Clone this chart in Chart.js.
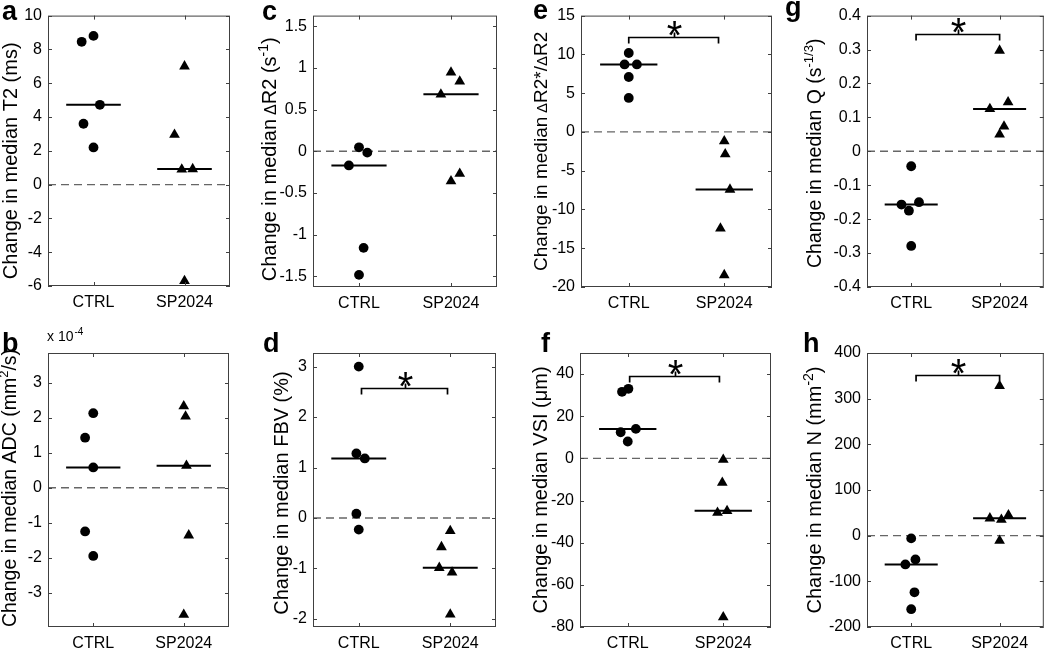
<!DOCTYPE html>
<html>
<head>
<meta charset="utf-8">
<script src="https://cdn.jsdelivr.net/npm/chart.js@4.4.0/dist/chart.umd.min.js"></script>
<style>
  body { margin: 0; background: #fff; }
  #fig { position: relative; width: 1050px; height: 650px; overflow: hidden; background: #fff; }
  #fig canvas { position: absolute; }
</style>
</head>
<body>
<div id="fig"></div>
<script>
const FONT = '"Liberation Sans", Arial, sans-serif';

// shared x axis
const groups = ['CTRL', 'SP2024'];
const groupPos = [1, 2];
const xRange = [0.5, 2.5];
const zeroLevel = 0;

// a: T2 (ms)
const t2Ctrl = [8.45, 8.8, 4.72, 3.6, 2.2];
const t2CtrlX = [0.87, 1.0, 1.07, 0.89, 1.0];
const t2Sp = [7.0, 2.95, 0.9, 0.92, -5.7];
const t2SpX = [2.0, 1.89, 1.97, 2.09, 2.0];
const t2Median = [4.72, 0.92];
const t2Range = [-6, 10];
const t2Ticks = [-6, -4, -2, 0, 2, 4, 6, 8, 10];

// b: ADC (x 10^-4 mm2/s)
const adcCtrl = [2.13, 1.43, 0.58, -1.25, -1.95];
const adcCtrlX = [1.0, 0.91, 1.0, 0.91, 1.0];
const adcSp = [2.33, 2.04, 0.63, -1.36, -3.63];
const adcSpX = [2.0, 2.02, 2.03, 2.055, 2.0];
const adcMedian = [0.58, 0.63];
const adcRange = [-3.98, 3.85];
const adcTicks = [-3, -2, -1, 0, 1, 2, 3];

// c: delta R2 (s^-1)
const r2Ctrl = [0.048, -0.016, -0.17, -1.16, -1.484];
const r2CtrlX = [1.0, 1.09, 0.89, 1.05, 1.0];
const r2Sp = [0.948, 0.84, 0.684, -0.36, -0.268];
const r2SpX = [2.0, 2.095, 1.89, 2.0, 2.095];
const r2Median = [-0.17, 0.684];
const r2Range = [-1.63, 1.63];
const r2Ticks = [-1.5, -1, -0.5, 0, 0.5, 1, 1.5];

// d: FBV (%)
const fbvCtrl = [3.0, 1.28, 1.18, 0.086, -0.23];
const fbvCtrlX = [1.0, 0.974, 1.066, 0.974, 1.0];
const fbvSp = [-0.258, -0.576, -0.987, -1.08, -1.91];
const fbvSpX = [2.0, 1.904, 1.88, 2.02, 2.0];
const fbvMedian = [1.18, -0.987];
const fbvRange = [-2.16, 3.27];
const fbvTicks = [-2, -1, 0, 1, 2, 3];
const fbvBracket = [1.03, 1.97, 2.57];

// e: delta R2* / delta R2
const ratioCtrl = [10.18, 8.7, 8.7, 7.08, 4.38];
const ratioCtrlX = [1.0, 0.956, 1.085, 1.0, 1.0];
const ratioSp = [-1.2, -2.88, -7.43, -12.45, -18.46];
const ratioSpX = [2.0, 2.01, 2.06, 1.96, 2.0];
const ratioMedian = [8.7, -7.43];
const ratioRange = [-20, 15];
const ratioTicks = [-20, -15, -10, -5, 0, 5, 10, 15];
const ratioBracket = [1.0, 1.94, 12.2];

// f: VSI (um)
const vsiCtrl = [31.6, 33.0, 12.4, 14.0, 8.0];
const vsiCtrlX = [0.94, 1.007, 0.926, 1.085, 1.0];
const vsiSp = [-0.6, -11.5, -25.8, -24.9, -75.3];
const vsiSpX = [2.0, 1.99, 1.94, 2.04, 2.0];
const vsiMedian = [14.0, -24.9];
const vsiRange = [-80, 50];
const vsiTicks = [-80, -60, -40, -20, 0, 20, 40];
const vsiBracket = [1.02, 1.96, 39.2];

// g: Q (s^-1/3)
const qCtrl = [-0.044, -0.157, -0.175, -0.15, -0.279];
const qCtrlX = [1.0, 0.89, 0.974, 1.088, 1.0];
const qSp = [0.297, 0.145, 0.125, 0.0735, 0.05];
const qSpX = [2.0, 2.096, 1.89, 2.05, 2.0];
const qMedian = [-0.157, 0.125];
const qRange = [-0.4, 0.4];
const qTicks = [-0.4, -0.3, -0.2, -0.1, 0, 0.1, 0.2, 0.3, 0.4];
const qBracket = [1.055, 2.0, 0.346];

// h: N (mm^-2)
const nCtrl = [-6, -52, -63, -124, -161];
const nCtrlX = [1.0, 1.048, 0.934, 1.037, 1.0];
const nSp = [328, 38, 35, 45, -11];
const nSpX = [2.0, 1.89, 2.02, 2.10, 2.0];
const nMedian = [-63, 38];
const nRange = [-200, 400];
const nTicks = [-200, -100, 0, 100, 200, 300, 400];
const nBracket = [1.055, 2.0, 352];

// layout: box = canvas [l, t, r, b], plot = axes [l, t, r, b], absolute px
const panels = [
  { tag: 'a', tagAt: [2, 20], box: [0, 0, 255, 320], plot: [48, 15, 230, 286], titleX: 17, titleShift: 10, titleSize: 20,
    title: [['Change in median T2 (ms)']],
    ctrl: t2Ctrl, ctrlX: t2CtrlX, sp: t2Sp, spX: t2SpX, median: t2Median, range: t2Range, ticks: t2Ticks },
  { tag: 'b', tagAt: [2, 352], box: [0, 320, 255, 650], plot: [48, 353, 229, 627], titleX: 16, titleShift: -2, titleSize: 19.5, exponent: '-4',
    title: [['Change in median ADC (mm'], ['2', 'sup'], ['/s)']],
    ctrl: adcCtrl, ctrlX: adcCtrlX, sp: adcSp, spX: adcSpX, median: adcMedian, range: adcRange, ticks: adcTicks },
  { tag: 'c', tagAt: [262, 20], box: [255, 0, 520, 320], plot: [313, 15, 497, 287], titleX: 276, titleShift: 8, titleSize: 20,
    title: [['Change in median\u2009'], ['\u0394', 'small'], ['R2 (s'], ['-1', 'sup'], [')']],
    ctrl: r2Ctrl, ctrlX: r2CtrlX, sp: r2Sp, spX: r2SpX, median: r2Median, range: r2Range, ticks: r2Ticks },
  { tag: 'd', tagAt: [263, 352], box: [255, 320, 520, 650], plot: [313, 353, 496, 627], titleX: 288, titleShift: 3, titleSize: 20,
    title: [['Change in median FBV (%)']], bracket: fbvBracket,
    ctrl: fbvCtrl, ctrlX: fbvCtrlX, sp: fbvSp, spX: fbvSpX, median: fbvMedian, range: fbvRange, ticks: fbvTicks },
  { tag: 'e', tagAt: [533, 19], box: [520, 0, 780, 320], plot: [581, 15, 772, 287], titleX: 547, titleShift: 0, titleSize: 19,
    title: [['Change in median\u2009'], ['\u0394', 'small'], ['R2*/'], ['\u0394', 'small'], ['R2']], bracket: ratioBracket,
    ctrl: ratioCtrl, ctrlX: ratioCtrlX, sp: ratioSp, spX: ratioSpX, median: ratioMedian, range: ratioRange, ticks: ratioTicks },
  { tag: 'f', tagAt: [541, 352], box: [520, 320, 780, 650], plot: [580, 353, 771, 627], titleX: 547, titleShift: 0, titleSize: 20,
    title: [['Change in median VSI (\u03bcm)']], bracket: vsiBracket,
    ctrl: vsiCtrl, ctrlX: vsiCtrlX, sp: vsiSp, spX: vsiSpX, median: vsiMedian, range: vsiRange, ticks: vsiTicks },
  { tag: 'g', tagAt: [785, 16], box: [780, 0, 1050, 320], plot: [867, 15, 1047, 287], titleX: 821, titleShift: 2, titleSize: 19.5,
    title: [['Change in median Q (s'], ['-1/3', 'sup'], [')']], bracket: qBracket,
    ctrl: qCtrl, ctrlX: qCtrlX, sp: qSp, spX: qSpX, median: qMedian, range: qRange, ticks: qTicks },
  { tag: 'h', tagAt: [803, 352], box: [780, 320, 1050, 650], plot: [867, 353, 1047, 627], titleX: 821, titleShift: 0, titleSize: 20,
    title: [['Change in median N (mm'], ['-2', 'sup'], [')']], bracket: nBracket,
    ctrl: nCtrl, ctrlX: nCtrlX, sp: nSp, spX: nSpX, median: nMedian, range: nRange, ticks: nTicks }
];

// box with inward tick marks on all four sides (MATLAB style)
const boxTicks = {
  id: 'boxTicks',
  afterDraw(chart) {
    const { ctx, chartArea: a, scales: { x, y } } = chart;
    ctx.save();
    ctx.strokeStyle = '#404040';
    ctx.lineWidth = 1;
    ctx.beginPath();
    y.ticks.forEach(t => {
      const py = Math.round(y.getPixelForValue(t.value)) + 0.5;
      ctx.moveTo(a.left, py); ctx.lineTo(a.left + 4, py);
      ctx.moveTo(a.right, py); ctx.lineTo(a.right - 4, py);
    });
    x.ticks.forEach(t => {
      const px = Math.round(x.getPixelForValue(t.value)) + 0.5;
      ctx.moveTo(px, a.bottom); ctx.lineTo(px, a.bottom - 4);
      ctx.moveTo(px, a.top); ctx.lineTo(px, a.top + 4);
    });
    ctx.stroke();
    ctx.strokeRect(a.left + 0.5, a.top + 0.5, a.width - 1, a.height - 1);
    ctx.restore();
  }
};

// significance bracket + asterisk
const bracket = {
  id: 'bracket',
  afterDatasetsDraw(chart, args, o) {
    if (!o.span) return;
    const { ctx, scales: { x, y } } = chart;
    const px1 = x.getPixelForValue(o.span[0]);
    const px2 = x.getPixelForValue(o.span[1]);
    const py = Math.round(y.getPixelForValue(o.span[2])) + 0.5;
    const mid = Math.round((px1 + px2) / 2) + 0.5;
    ctx.save();
    ctx.strokeStyle = '#000';
    ctx.lineWidth = 1.7;
    ctx.beginPath();
    ctx.moveTo(px1, py + 6); ctx.lineTo(px1, py); ctx.lineTo(px2, py); ctx.lineTo(px2, py + 6);
    ctx.moveTo(mid, py); ctx.lineTo(mid, py - 5);
    ctx.stroke();
    ctx.fillStyle = '#000';
    ctx.font = '40px ' + FONT;
    ctx.textAlign = 'center';
    ctx.textBaseline = 'alphabetic';
    ctx.fillText('*', mid, py + 11);
    ctx.restore();
  }
};

// rotated y-axis title with superscripts, panel letter, exponent note
const panelText = {
  id: 'panelText',
  afterDraw(chart, args, o) {
    const { ctx, chartArea: a } = chart;
    const big = o.size;
    const sizeOf = m => m === 'sup' ? Math.round(big * 0.68) : m === 'small' ? Math.round(big * 0.78) : big;
    ctx.save();
    ctx.fillStyle = '#000';
    const widths = o.parts.map(([t, m]) => { ctx.font = sizeOf(m) + 'px ' + FONT; return ctx.measureText(t).width; });
    const total = widths.reduce((s, w) => s + w, 0);
    ctx.translate(o.x, (a.top + a.bottom) / 2 + o.shift);
    ctx.rotate(-Math.PI / 2);
    ctx.textAlign = 'left';
    ctx.textBaseline = 'alphabetic';
    let cx = -total / 2;
    o.parts.forEach(([t, m], i) => {
      ctx.font = sizeOf(m) + 'px ' + FONT;
      ctx.fillText(t, cx, m === 'sup' ? -big * 0.42 : 0);
      cx += widths[i];
    });
    ctx.restore();

    ctx.save();
    ctx.fillStyle = '#000';
    ctx.textAlign = 'left';
    ctx.textBaseline = 'alphabetic';
    ctx.font = 'bold 27px ' + FONT;
    ctx.fillText(o.tag, o.tagAt[0], o.tagAt[1]);
    if (o.exponent) {
      ctx.font = '14px ' + FONT;
      const base = 'x 10';
      ctx.fillText(base, a.left - 1, a.top - 12);
      const w = ctx.measureText(base).width;
      ctx.font = '10px ' + FONT;
      ctx.fillText(o.exponent, a.left - 1 + w + 1, a.top - 18);
    }
    ctx.restore();
  }
};

const pts = (xs, ys) => ys.map((v, i) => ({ x: xs[i], y: v }));
const seg = (pos, m) => [{ x: pos - 0.3, y: m }, { x: pos + 0.3, y: m }];

const fig = document.getElementById('fig');

panels.forEach(p => {
  const [bl, bt, br, bb] = p.box;
  const [pl, pt, pr, pb] = p.plot;
  const cv = document.createElement('canvas');
  cv.width = br - bl;
  cv.height = bb - bt;
  cv.style.left = bl + 'px';
  cv.style.top = bt + 'px';
  fig.appendChild(cv);

  const lineSet = (data, extra) => Object.assign({
    data: data, showLine: true, pointRadius: 0, borderColor: '#000', borderWidth: 2, fill: false
  }, extra);

  new Chart(cv, {
    type: 'scatter',
    data: {
      datasets: [
        { data: pts(p.ctrlX, p.ctrl), pointStyle: 'circle', pointRadius: 4.9,
          backgroundColor: '#000', borderColor: '#000', borderWidth: 0, order: 0 },
        { data: pts(p.spX, p.sp), pointStyle: 'triangle', pointRadius: 6.2,
          backgroundColor: '#000', borderColor: '#000', borderWidth: 0, order: 0 },
        lineSet(seg(groupPos[0], p.median[0]), { order: 1 }),
        lineSet(seg(groupPos[1], p.median[1]), { order: 1 }),
        lineSet([{ x: xRange[0], y: zeroLevel }, { x: xRange[1], y: zeroLevel }],
          { borderColor: '#666', borderWidth: 1.4, borderDash: [8, 5], order: 2 })
      ]
    },
    options: {
      responsive: false,
      animation: false,
      events: [],
      layout: { padding: { left: 0, top: pt - bt, right: br - pr, bottom: 0 } },
      plugins: {
        legend: { display: false },
        tooltip: { enabled: false },
        bracket: { span: p.bracket || null },
        panelText: { parts: p.title, size: p.titleSize, x: p.titleX - bl, shift: p.titleShift, tag: p.tag,
          tagAt: [p.tagAt[0] - bl, p.tagAt[1] - bt], exponent: p.exponent || null }
      },
      scales: {
        x: {
          type: 'linear', min: xRange[0], max: xRange[1],
          grid: { display: false, drawTicks: false }, border: { display: false },
          afterBuildTicks: s => { s.ticks = groupPos.map(v => ({ value: v })); },
          afterFit: s => { s.height = bb - pb; },
          ticks: { padding: 7, color: '#000', maxRotation: 0, autoSkip: false,
            font: { size: 16, family: FONT }, callback: (v, i) => groups[i] }
        },
        y: {
          type: 'linear', min: p.range[0], max: p.range[1],
          grid: { display: false, drawTicks: false }, border: { display: false },
          afterBuildTicks: s => { s.ticks = p.ticks.map(v => ({ value: v })); },
          afterFit: s => { s.width = pl - bl; },
          ticks: { padding: 6, color: '#000', autoSkip: false,
            font: { size: 16, family: FONT }, callback: v => String(v) }
        }
      }
    },
    plugins: [boxTicks, bracket, panelText]
  });
});
</script>
</body>
</html>
